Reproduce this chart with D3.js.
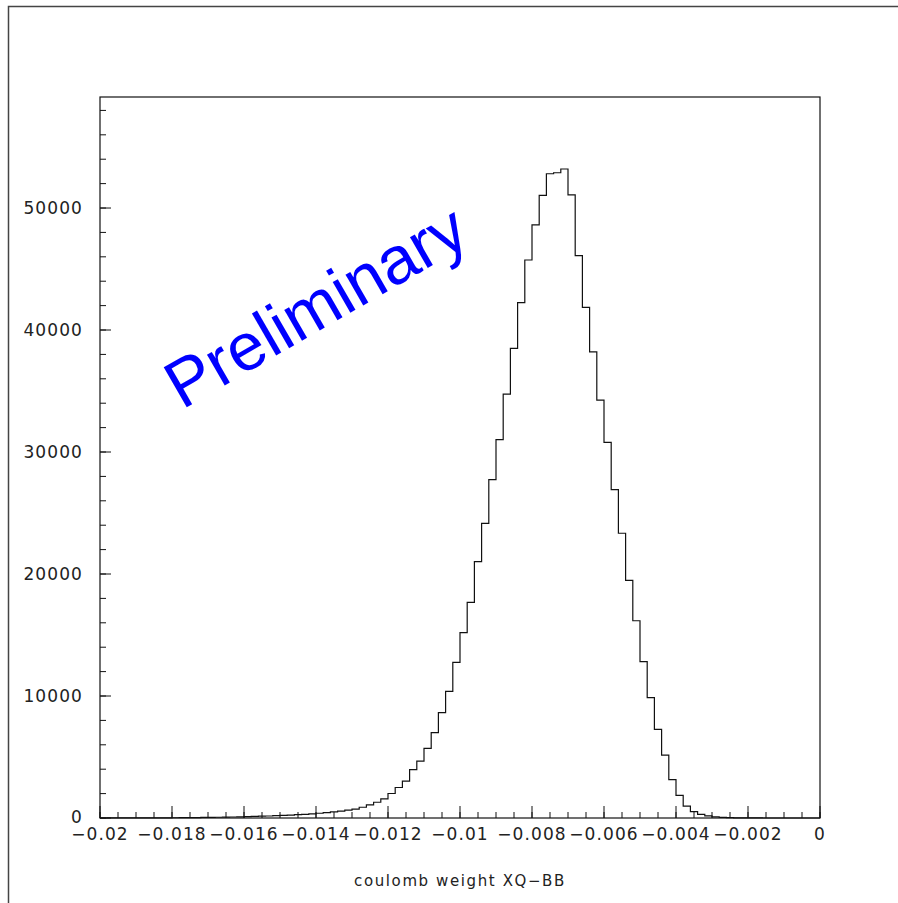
<!DOCTYPE html>
<html>
<head>
<meta charset="utf-8">
<script src="https://cdn.jsdelivr.net/npm/d3@7"></script>
<style>
html,body{margin:0;padding:0;background:#fff;}
svg{display:block;}
</style>
</head>
<body>
<script>
// Histogram: 100 bins from -0.02 to 0 (bin width 0.0002)
const xMin = -0.02, xMax = 0, nBins = 100;
const counts = [
  2,3,4,5,6,8,10,12,15,18,
  22,27,32,38,45,53,62,72,84,97,
  112,128,146,166,188,212,240,270,305,345,
  390,440,500,565,640,720,880,1070,1290,1560,
  2010,2500,3030,3960,4670,5710,6990,8630,10380,12760,
  15190,17680,21010,24150,27730,31010,34750,38500,42240,45740,
  48610,51040,52810,52890,53200,51070,46090,41860,38200,34260,
  30790,26910,23340,19480,16170,12810,9860,7270,5160,3140,
  1860,980,520,300,170,95,55,30,18,10,
  6,4,2,1,1,0,0,0,0,0
];
const yMajorTicks = [0,10000,20000,30000,40000,50000];
const yTickLabels = ["0","10000","20000","30000","40000","50000"];
const xMajorTicks = [-0.02,-0.018,-0.016,-0.014,-0.012,-0.01,-0.008,-0.006,-0.004,-0.002,0];
const xTickLabels = ["\u22120.02","\u22120.018","\u22120.016","\u22120.014","\u22120.012","\u22120.01","\u22120.008","\u22120.006","\u22120.004","\u22120.002","0"];
const xTitle = "coulomb weight XQ\u2212BB";
const watermark = "Preliminary";
const yMax = 59100;

const W = 898, H = 903;
const svg = d3.select("body").append("svg").attr("width", W).attr("height", H);

// outer canvas frame
svg.append("rect").attr("x", 8.5).attr("y", 6.5).attr("width", 900).attr("height", 910)
  .attr("fill", "none").attr("stroke", "#444").attr("stroke-width", 1.5);

const L = 100, R = 820, T = 97, B = 818;
const x = d3.scaleLinear().domain([xMin, xMax]).range([L, R]);
const y = d3.scaleLinear().domain([0, yMax]).range([B, T]);

// histogram step path
const bw = (xMax - xMin) / nBins;
const pts = [];
counts.forEach((c, i) => {
  const x0 = xMin + i * bw, x1 = x0 + bw;
  pts.push([x(x0), y(c)], [x(x1), y(c)]);
});
const line = d3.line();
svg.append("path").attr("d", line(pts)).attr("fill", "none")
  .attr("stroke", "#111").attr("stroke-width", 1.2);

// frame
svg.append("rect").attr("x", L).attr("y", T).attr("width", R - L).attr("height", B - T)
  .attr("fill", "none").attr("stroke", "#111").attr("stroke-width", 1.2);

// x axis ticks (inside, pointing up)
const gx = svg.append("g").attr("transform", `translate(0,${B})`);
const xMinor = d3.range(0, 41).map(i => xMin + i * 0.0005);
gx.selectAll("line.minor").data(xMinor).join("line")
  .attr("x1", d => x(d)).attr("x2", d => x(d)).attr("y1", 0).attr("y2", -6)
  .attr("stroke", "#111");
gx.selectAll("line.major").data(xMajorTicks).join("line")
  .attr("x1", d => x(d)).attr("x2", d => x(d)).attr("y1", 0).attr("y2", -12)
  .attr("stroke", "#111");
gx.selectAll("text").data(xMajorTicks).join("text")
  .attr("x", d => x(d)).attr("y", 22)
  .attr("text-anchor", "middle")
  .attr("font-family", "DejaVu Sans").attr("font-size", 17)
  .attr("letter-spacing", 1.1).attr("fill", "#222")
  .text((d, i) => xTickLabels[i]);

// y axis ticks (inside, pointing right)
const gy = svg.append("g").attr("transform", `translate(${L},0)`);
const yMinor = d3.range(0, 30).map(i => i * 2000).filter(v => v <= yMax);
gy.selectAll("line.minor").data(yMinor).join("line")
  .attr("x1", 0).attr("x2", 6).attr("y1", d => y(d)).attr("y2", d => y(d))
  .attr("stroke", "#111");
gy.selectAll("line.major").data(yMajorTicks).join("line")
  .attr("x1", 0).attr("x2", 11).attr("y1", d => y(d)).attr("y2", d => y(d))
  .attr("stroke", "#111");
gy.selectAll("text").data(yMajorTicks).join("text")
  .attr("x", -17).attr("y", d => y(d) + (d === 0 ? 5 : 6))
  .attr("text-anchor", "end")
  .attr("font-family", "DejaVu Sans").attr("font-size", 17)
  .attr("letter-spacing", 1.1).attr("fill", "#222")
  .text((d, i) => yTickLabels[i]);

// x title
svg.append("text").attr("x", 460).attr("y", 886).attr("text-anchor", "middle")
  .attr("font-family", "DejaVu Sans").attr("font-size", 15)
  .attr("letter-spacing", 1.6).attr("fill", "#222").text(xTitle);

// watermark
svg.append("text").attr("transform", "translate(182,410) rotate(-30)")
  .attr("font-family", "Liberation Sans").attr("font-size", 67)
  .attr("fill", "#0000ff").text(watermark);
</script>
</body>
</html>
